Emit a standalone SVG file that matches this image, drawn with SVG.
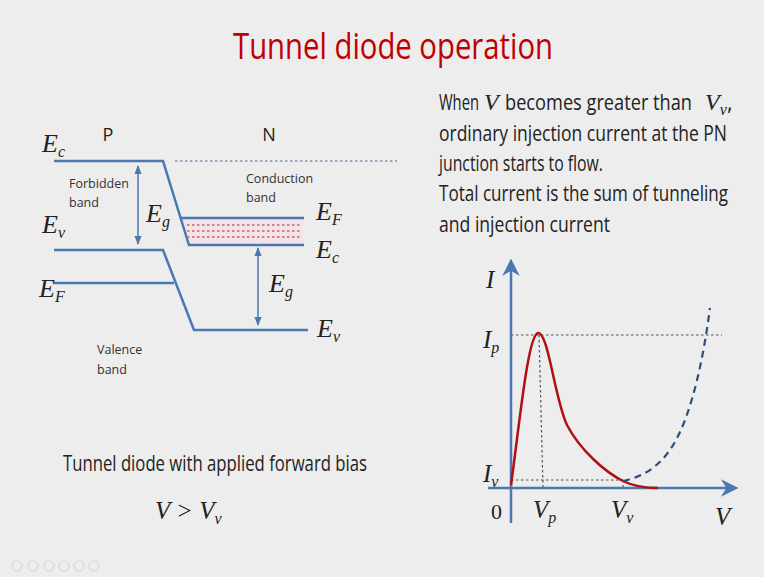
<svg xmlns="http://www.w3.org/2000/svg" width="764" height="577" viewBox="0 0 764 577">
<style>
.band{stroke:#4a78b0;stroke-width:2.5;fill:none}
.arr{stroke:#4a78b0;stroke-width:1.5;fill:none}
.sans{font-family:"Open Sans","Liberation Sans",sans-serif;fill:#222}
.small{font-size:12.5px;fill:#333}
.body{font-size:22px}
.math{font-family:"Liberation Serif",serif;font-style:italic;fill:#222}
.sub{font-size:16px}
.dot{stroke:#555;stroke-width:1.2;stroke-dasharray:2.5 2.5;fill:none}
</style>
<defs>
<marker id="ah" viewBox="0 0 10 10" refX="9" refY="5" markerWidth="6" markerHeight="6" orient="auto-start-reverse"><path d="M0,1 L10,5 L0,9 z" fill="#4a78b0"/></marker>
<marker id="ax" viewBox="0 0 10 10" refX="8" refY="5" markerWidth="7" markerHeight="7" orient="auto"><path d="M0,0 L10,5 L0,10 L3,5 z" fill="#4a78b0"/></marker>
</defs>
<rect width="764" height="577" fill="#ededed"/>
<text id="title" x="233" y="59" font-family="Open Sans,Liberation Sans,sans-serif" font-size="36" fill="#c00000" textLength="320" lengthAdjust="spacingAndGlyphs">Tunnel diode operation</text>

<g id="band-diagram">
<rect x="183" y="219" width="120" height="26" fill="#f3e4ea"/>
<g id="p-ec"><path class="band" d="M54,161 H163 L189,245 H304"/></g>
<g id="n-ef"><path class="band" d="M181,218 H304"/></g>
<g id="p-ev"><path class="band" d="M54,250 H163 L194,330 H308"/></g>
<g id="p-ef"><path class="band" d="M54,283 H174"/></g>
<line x1="175" y1="161" x2="397" y2="161" stroke="#7f97b8" stroke-width="1.5" stroke-dasharray="2.5 2.5"/>
<g stroke="#d06060" stroke-width="1.5" stroke-dasharray="2.5 2.5"><line x1="187" y1="225" x2="301" y2="225"/><line x1="187" y1="231" x2="301" y2="231"/><line x1="187" y1="237" x2="301" y2="237"/></g>
<line class="arr" x1="138" y1="166" x2="138" y2="244" marker-start="url(#ah)" marker-end="url(#ah)"/>
<line class="arr" x1="258" y1="248" x2="258" y2="325" marker-start="url(#ah)" marker-end="url(#ah)"/>
<text class="sans" x="108" y="141" font-size="18" text-anchor="middle">P</text>
<text class="sans" x="269" y="141" font-size="18" text-anchor="middle">N</text>
<text class="sans small" x="69" y="188">Forbidden</text>
<text class="sans small" x="69" y="207">band</text>
<text class="sans small" x="246" y="183">Conduction</text>
<text class="sans small" x="246" y="202">band</text>
<text class="sans small" x="97" y="354">Valence</text>
<text class="sans small" x="97" y="374">band</text>
<text class="math" x="42" y="152" font-size="26">E<tspan class="sub" dy="5">c</tspan></text>
<text class="math" x="42" y="233" font-size="26">E<tspan class="sub" dy="5">v</tspan></text>
<text class="math" x="39" y="297" font-size="26">E<tspan class="sub" dy="5">F</tspan></text>
<text class="math" x="146" y="222" font-size="26">E<tspan class="sub" dy="5">g</tspan></text>
<text class="math" x="316" y="220" font-size="26">E<tspan class="sub" dy="5">F</tspan></text>
<text class="math" x="316" y="258" font-size="26">E<tspan class="sub" dy="5">c</tspan></text>
<text class="math" x="269" y="292" font-size="26">E<tspan class="sub" dy="5">g</tspan></text>
<text class="math" x="317" y="337" font-size="26">E<tspan class="sub" dy="5">v</tspan></text>
</g>

<g id="desc">
<text y="110" class="sans body"><tspan x="439" textLength="40" lengthAdjust="spacingAndGlyphs">When</tspan><tspan x="484" class="math" font-size="24">V</tspan><tspan x="505" textLength="187" lengthAdjust="spacingAndGlyphs">becomes greater than</tspan><tspan x="705" class="math" font-size="24">V<tspan font-size="16" dy="5">v</tspan></tspan><tspan x="727" dy="-5">,</tspan></text>
<text x="439" y="141" class="sans body" textLength="288" lengthAdjust="spacingAndGlyphs">ordinary injection current at the PN</text>
<text x="439" y="171" class="sans body" textLength="164" lengthAdjust="spacingAndGlyphs">junction starts to flow.</text>
<text x="439" y="201" class="sans body" textLength="289" lengthAdjust="spacingAndGlyphs">Total current is the sum of tunneling</text>
<text x="439" y="232" class="sans body" textLength="171" lengthAdjust="spacingAndGlyphs">and injection current</text>
</g>

<g id="caption">
<text x="63" y="471" class="sans body" textLength="304" lengthAdjust="spacingAndGlyphs">Tunnel diode with applied forward bias</text>
<text x="155" y="519" class="math" font-size="25">V &gt; V<tspan font-size="16" dy="5">v</tspan></text>
</g>

<g id="graph">
<line class="dot" x1="511" y1="335" x2="722" y2="335"/>
<line class="dot" x1="511" y1="480" x2="623" y2="480"/>
<line class="dot" x1="539" y1="335" x2="543" y2="488"/>
<line class="dot" x1="623" y1="480" x2="623" y2="488"/>
<g id="axes">
<line x1="511" y1="523" x2="511" y2="262" stroke="#4a78b0" stroke-width="2.5" marker-end="url(#ax)"/>
<line x1="488" y1="488" x2="735" y2="488" stroke="#4a78b0" stroke-width="2.5" marker-end="url(#ax)"/>
</g>
<path id="tunnel-curve" d="M511,485 C520,420 528,335 538,333 C548,331 555,400 567,425 C580,450 605,472 623,481 C633,486 645,488 658,488" fill="none" stroke="#b01010" stroke-width="2.5"/>
<path id="injection-curve" d="M623,481 C650,475 670,460 685,420 C698,385 705,345 710,308" fill="none" stroke="#2f4f7a" stroke-width="2.2" stroke-dasharray="7 5"/>
<text class="math" x="486" y="288" font-size="25">I</text>
<text class="math" x="483" y="348" font-size="25">I<tspan class="sub" dy="5">p</tspan></text>
<text class="math" x="483" y="482" font-size="25">I<tspan class="sub" dy="5">v</tspan></text>
<text x="491" y="519" font-family="Liberation Serif,serif" font-size="22" fill="#222">0</text>
<text class="math" x="533" y="518" font-size="25">V<tspan class="sub" dy="5">p</tspan></text>
<text class="math" x="611" y="518" font-size="25">V<tspan class="sub" dy="5">v</tspan></text>
<text class="math" x="715" y="525" font-size="25">V</text>
</g>

<g id="controls" fill="none" stroke="#d8d8d8" stroke-width="1.2">
<circle cx="17" cy="566" r="5"/><circle cx="33" cy="566" r="5"/><circle cx="49" cy="566" r="5"/><circle cx="64" cy="566" r="5"/><circle cx="79" cy="566" r="5"/><circle cx="94" cy="566" r="5"/>
</g>
</svg>
